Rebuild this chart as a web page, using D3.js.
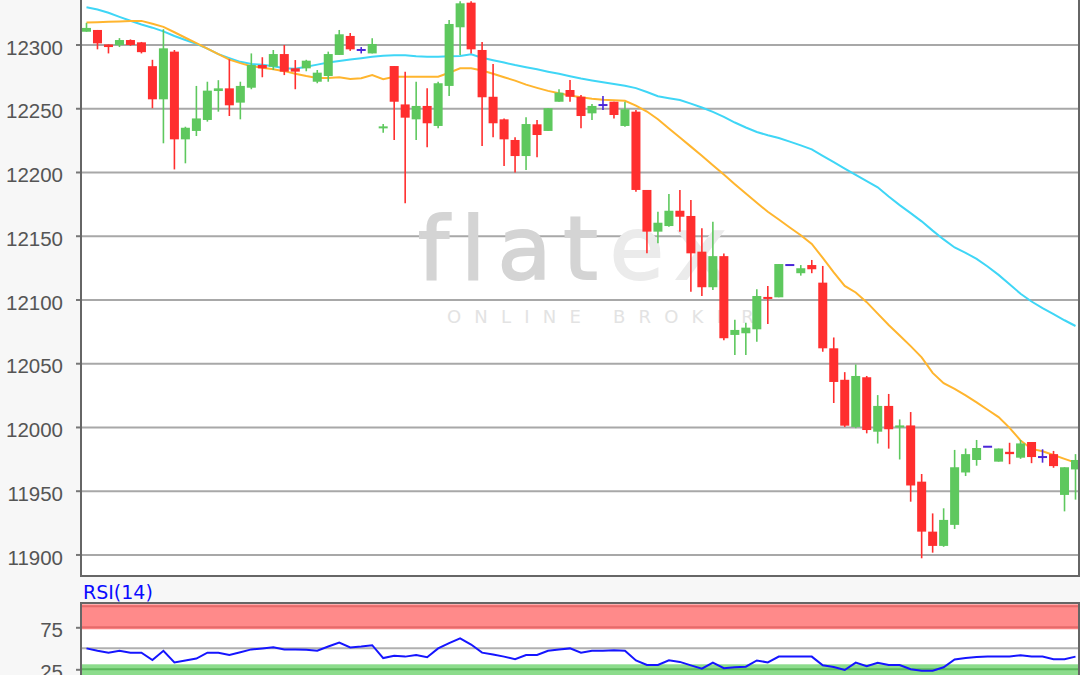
<!DOCTYPE html>
<html><head><meta charset="utf-8">
<script src="https://cdn.jsdelivr.net/npm/d3@7/dist/d3.min.js"></script>
<style>html,body{margin:0;padding:0;background:#f7f7f7;overflow:hidden}svg{display:block}</style>
</head><body><svg id="c" width="1080" height="675"></svg>
<script>
// ---- data ----
const opens  = [12310,12311.4,12300,12299.5,12303.5,12301.7,12283,12257,12294.4,12225.6,12232.2,12240.8,12263.5,12265.6,12254.4,12266.1,12283.9,12282.6,12292.5,12281.3,12281.3,12270.8,12275.3,12291.8,12306.7,12295.7,12293,12234,12283.1,12253,12241.3,12251.8,12236.1,12267.5,12313.5,12332.8,12295.7,12259,12241.3,12225.1,12212.5,12237.4,12232.2,12255.1,12264.3,12259,12246,12252.5,12255.1,12236.1,12247.3,12185.9,12153.2,12157.6,12169.6,12165.5,12137.5,12109.6,12134,12072.2,12073.5,12076.6,12102,12101.7,12127,12120.6,12127,12113.2,12061.7,12037,12000,12039,11996.3,12016.5,11999.6,12001.2,11957.1,11917.9,11906.7,11923.2,11964.3,11974.1,11984.5,11972.8,11980.5,11975.9,11988.2,11976.4,11978.7,11946.7,11966.7];
const highs  = [12317,12311.4,12300,12305,12304,12302,12288,12312,12295.7,12235.5,12267.5,12270.8,12272,12288.4,12270.8,12293,12290,12295.7,12299.6,12287.8,12288,12280,12294.4,12311.4,12309,12298,12304.9,12237.6,12283.1,12278.7,12270.8,12265.6,12270.8,12319.2,12334,12334,12302,12284.7,12242,12227.2,12243,12240.8,12250,12264.9,12272.2,12260.4,12253.3,12259.6,12255.1,12255.1,12248.6,12185.9,12168.9,12182.7,12185.9,12178,12155.8,12161,12136,12084,12081.8,12108,12110.6,12127.8,12127,12127,12131,12126.3,12070.2,12043,12049,12040,12025,12025.9,12005.9,12011.7,11963.1,11932.2,11936.2,11982,11983.1,11989.8,11984.5,11983.1,11987.6,11989.8,11988.2,11982.5,11981.2,11968.4,11978.7];
const lows   = [12310,12296.2,12293,12298,12299,12293,12250,12222.5,12202,12206.8,12228.2,12239.5,12247.3,12243.9,12241.3,12264.9,12274.3,12280,12276,12264.9,12279,12269.6,12270.8,12291.8,12295,12293,12293,12230.8,12225,12175.5,12225,12219.4,12234.3,12259.6,12291.8,12293,12220.4,12227.2,12204.7,12199.5,12201.6,12211.5,12232.2,12255.1,12255.1,12234.3,12240.8,12248.6,12242,12235.5,12184.5,12136.2,12144.1,12157.1,12153.2,12106.1,12102.7,12107.5,12068,12056.5,12056.5,12066.9,12080.8,12101.7,12127,12118.7,12120.6,12059,12018.8,12000,11999,11995,11987,11983,11974.5,11941.4,11897,11901.4,11906,11920,11961.5,11969.6,11984.5,11972.8,11970.8,11975,11971.6,11972,11968,11933.8,11943];
const closes = [12313,12300.9,12298,12303.5,12299.6,12294,12257,12297,12225.6,12234.7,12242,12263.8,12265.6,12252.3,12267.5,12283.9,12281.3,12292.5,12278.7,12278.7,12287.3,12277.9,12292.5,12308,12296.2,12295.7,12300.4,12235,12255.1,12242.6,12251.8,12238.2,12269.6,12316.1,12332.3,12296.2,12258.6,12238.2,12225.6,12212.5,12237.6,12229,12250,12262.2,12259,12243.9,12251.8,12252.5,12244.7,12249.2,12185.9,12153.2,12160.2,12169.6,12164.9,12136.2,12109.6,12134,12069.6,12076.1,12077.9,12102.7,12100.4,12127.8,12127,12124.5,12123.7,12061.7,12035.3,12001,12040,11997.6,12016.5,11998.2,12001.2,11954.1,11917.9,11906.7,11927.1,11968.4,11978.7,11983.5,11984.5,11983.1,11978.7,11987.1,11976.4,11976.4,11969.3,11968.4,11974.1];
const maShort = [12317.2,12317.5,12317.8,12318.1,12318.4,12318.5,12316.2,12313.8,12309.6,12305.3,12301,12296.7,12292.4,12288.1,12285.4,12283,12281.8,12280.5,12279.1,12277,12275.3,12273.8,12273.8,12274.3,12272.9,12273.5,12276,12272.8,12274.7,12274.7,12274.7,12274.7,12274.7,12277.8,12281.3,12281.3,12279.6,12277.1,12274.3,12271.7,12268.5,12266,12263.6,12261.7,12260,12258.6,12257.5,12256.7,12256.2,12255.8,12252.1,12247.4,12241.4,12234.1,12227.1,12219.9,12212.8,12205.3,12198,12190.4,12183.1,12175.8,12168.8,12162.7,12156.5,12150.4,12143.6,12132.6,12121.2,12110.6,12105.5,12097.9,12088.9,12080,12071.8,12063.4,12054.6,12042.4,12034.3,12029.9,12024.8,12019.3,12013.5,12007.7,11999.3,11989.4,11982.8,11980.9,11978,11975,11972];
const maLong = [12329.2,12327.4,12324.9,12321.7,12318.6,12315.7,12313.2,12310.3,12306.7,12303.5,12300.5,12296.7,12292.4,12289.3,12286.4,12284.7,12284.1,12283,12281.3,12280.9,12282.5,12284.2,12285.9,12287.1,12288.2,12289.3,12290.3,12291.1,12291.5,12291.5,12290.7,12290.4,12290.4,12290.7,12291,12292.3,12289.6,12287.7,12285.8,12283.9,12282.2,12280.5,12278.7,12277,12275.1,12273.3,12271.8,12270.4,12269,12267.6,12265.8,12262.7,12259.4,12257.9,12256.5,12253.6,12250.6,12247.1,12243.2,12238.8,12234.9,12231.4,12228.8,12226.7,12223.8,12220.9,12217.7,12212.7,12207.7,12202.7,12197.7,12192.9,12188,12180.7,12174,12167.7,12161.3,12154,12147.1,12140.8,12136.6,12131.8,12125.9,12119.3,12111.9,12104.5,12098.4,12093.3,12088.5,12083.7,12079.2];
const rsi14 = [49.9,47,44.8,47.2,44.8,44.8,36.1,47,33.2,35.5,37.8,44.8,44.6,42,45.3,48.7,49.9,51.1,48.7,48.7,48.4,47.2,52.2,56.7,51.1,52.2,53.7,38.4,41.2,40.1,42,39.3,49.9,56.2,61.9,54.5,44.8,42.6,40.1,36.9,42,42,47,48.7,49.9,44.8,47.2,47.2,47.6,47,35.5,30.1,30.1,35.7,33.8,29.7,25.7,32.9,26.3,27.4,28.1,35.5,33.2,40.1,40.1,40.1,40.1,29.7,27.8,24.2,32.9,28.6,32.8,30.1,30.1,25,23.4,23.4,27.4,36.6,38.4,39.5,40.1,40.1,40.1,41.8,40.1,40.1,36.9,36.9,40.1];
const priceTicks = [11900,11950,12000,12050,12100,12150,12200,12250,12300];
const rsiTicks = [25,75];
const rsiMid = [50];
const rsiLabel = "RSI(14)";
const brandTop = "flat", brandTail = "ex", brandSub = "ONLINE BROKER";

// ---- layout ----
const L = 81, R = 1079, mainBottom = 576, rsiTop = 603;
const candles = opens.map((o,i)=>({i, o, h:highs[i], l:lows[i], c:closes[i]}));
const svg = d3.select('#c');
const defs = svg.append('defs');
defs.append('clipPath').attr('id','clipMain').append('rect').attr('x',L).attr('y',-10).attr('width',R-L-1).attr('height',mainBottom+10);
defs.append('clipPath').attr('id','clipRsi').append('rect').attr('x',L).attr('y',rsiTop).attr('width',R-L-1).attr('height',120);

svg.append('rect').attr('width',1080).attr('height',675).attr('fill','#f7f7f7');
svg.append('rect').attr('x',L).attr('y',-5).attr('width',R-L).attr('height',mainBottom+5).attr('fill','#fff');
svg.append('rect').attr('x',L).attr('y',rsiTop).attr('width',R-L).attr('height',120).attr('fill','#fff');

const x = d3.scaleBand().domain(candles.map(d=>d.i)).range([L,1081]).paddingInner(0.18).paddingOuter(0.09);
const cx = i => x(i) + x.bandwidth()/2;
const y = d3.scaleLinear().domain([11883.1,12334.9]).range([mainBottom,0]);
const yr = d3.scaleLinear().domain([0,100]).range([690.3,606.3]);

// grid
const grid = svg.append('g').attr('transform',`translate(${L},0)`)
  .call(d3.axisLeft(y).tickValues(priceTicks).tickSize(-(R-L)).tickFormat(''));
grid.select('.domain').remove();
grid.selectAll('line').attr('stroke','#a8a8a8').attr('stroke-width',2);

// watermark
const wm = svg.append('g').attr('clip-path','url(#clipMain)');
const t1 = wm.append('text').attr('x',418).attr('y',279)
  .attr('font-family','DejaVu Sans').attr('font-size',88).attr('letter-spacing',12);
t1.append('tspan').attr('fill','#d4d4d4').attr('stroke','#d4d4d4').attr('stroke-width',2).text(brandTop);
t1.append('tspan').attr('fill','#ebebeb').attr('stroke','#ebebeb').attr('stroke-width',2).text(brandTail);
wm.append('text').attr('x',447).attr('y',323)
  .attr('font-family','DejaVu Sans').attr('font-size',18).attr('letter-spacing',13.2)
  .attr('fill','#e3e3e3').text(brandSub);

// main axis
const ax = svg.append('g').attr('transform',`translate(${L},0)`)
  .call(d3.axisLeft(y).tickValues(priceTicks).tickSize(5).tickPadding(13).tickFormat(d3.format('d')));
ax.select('.domain').remove();
ax.selectAll('line').attr('stroke','#777').attr('stroke-width',2);
ax.selectAll('text').attr('font-family','Liberation Sans, Arial').attr('font-size',20.5).attr('fill','#555').attr('dy','0.47em');

// moving averages
const plotG = svg.append('g').attr('clip-path','url(#clipMain)');
const lineMain = arr => d3.line().x((d,i)=>cx(i)).y(d=>y(d))(arr);
plotG.append('path').attr('d',lineMain(maLong)).attr('fill','none').attr('stroke','#3fd6f6').attr('stroke-width',2);
plotG.append('path').attr('d',lineMain(maShort)).attr('fill','none').attr('stroke','#ffb52e').attr('stroke-width',2);

// candles
const up = '#5ec85e', down = '#ff2e2e', flat = '#4a26d8';
const col = d => d.c > d.o ? up : (d.c < d.o ? down : flat);
const cg = plotG.selectAll('g.candle').data(candles).join('g').attr('class','candle');
cg.filter(d=>d.h>d.l).append('line')
  .attr('x1',d=>cx(d.i)).attr('x2',d=>cx(d.i))
  .attr('y1',d=>y(d.h)).attr('y2',d=>y(d.l))
  .attr('stroke',col).attr('stroke-width',1.6);
cg.append('rect')
  .attr('x',d=>x(d.i)).attr('width',x.bandwidth())
  .attr('y',d=>Math.min(y(d.o),y(d.c)) - (Math.abs(y(d.o)-y(d.c))<2 ? 1 : 0))
  .attr('height',d=>Math.max(2,Math.abs(y(d.o)-y(d.c))))
  .attr('fill',col);

// main frame
svg.append('line').attr('x1',L).attr('x2',L).attr('y1',0).attr('y2',mainBottom+1).attr('stroke','#666').attr('stroke-width',2);
svg.append('line').attr('x1',L-1).attr('x2',R+1).attr('y1',mainBottom).attr('y2',mainBottom).attr('stroke','#666').attr('stroke-width',2);
svg.append('line').attr('x1',R).attr('x2',R).attr('y1',0).attr('y2',mainBottom+1).attr('stroke','#666').attr('stroke-width',2);

// RSI panel
const rg = svg.append('g').attr('clip-path','url(#clipRsi)');
rg.append('rect').attr('x',L).attr('width',R-L).attr('y',yr(100)-2).attr('height',yr(75)-yr(100)+4).attr('fill','#ff8a8a');
rg.selectAll('line.ob').data([100,75]).join('line').attr('class','ob')
  .attr('x1',L).attr('x2',R).attr('y1',d=>yr(d)).attr('y2',d=>yr(d)).attr('stroke','#e66a6a').attr('stroke-width',2);
rg.append('rect').attr('x',L).attr('width',R-L).attr('y',yr(25)-5).attr('height',40).attr('fill','#8cdc8c');
rg.selectAll('line.os').data([25]).join('line').attr('class','os')
  .attr('x1',L).attr('x2',R).attr('y1',d=>yr(d)).attr('y2',d=>yr(d)).attr('stroke','#5cb85c').attr('stroke-width',2);
rg.selectAll('line.mid').data(rsiMid).join('line').attr('class','mid')
  .attr('x1',L).attr('x2',R).attr('y1',d=>yr(d)).attr('y2',d=>yr(d)).attr('stroke','#b0b0b0').attr('stroke-width',2);
rg.append('path').attr('d',d3.line().x((d,i)=>cx(i)).y(d=>yr(d))(rsi14)).attr('fill','none').attr('stroke','#1515ff').attr('stroke-width',2);

const rax = svg.append('g').attr('transform',`translate(${L},0)`)
  .call(d3.axisLeft(yr).tickValues(rsiTicks).tickSize(5).tickPadding(13));
rax.select('.domain').remove();
rax.selectAll('line').attr('stroke','#777').attr('stroke-width',2);
rax.selectAll('text').attr('font-family','Liberation Sans, Arial').attr('font-size',20.5).attr('fill','#555').attr('dy','0.47em');

svg.append('line').attr('x1',L-1).attr('x2',R+1).attr('y1',rsiTop).attr('y2',rsiTop).attr('stroke','#666').attr('stroke-width',2);
svg.append('line').attr('x1',L).attr('x2',L).attr('y1',rsiTop).attr('y2',675).attr('stroke','#666').attr('stroke-width',2);
svg.append('line').attr('x1',R).attr('x2',R).attr('y1',rsiTop).attr('y2',675).attr('stroke','#666').attr('stroke-width',2);

svg.append('text').attr('x',83).attr('y',599).attr('font-family','DejaVu Sans').attr('font-size',19)
  .attr('fill','#0a0aff').text(rsiLabel);
</script></body></html>
